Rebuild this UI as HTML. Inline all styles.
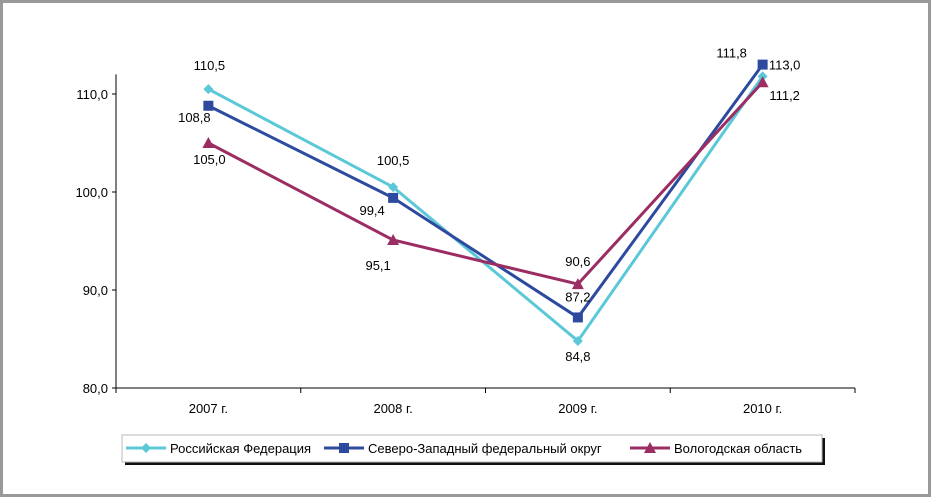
<!DOCTYPE html>
<html><head><meta charset="utf-8"><style>
html,body{margin:0;padding:0;background:#fff}
svg{display:block;font-family:"Liberation Sans",sans-serif}
</style></head><body>
<svg width="931" height="497">
<rect x="1.5" y="1.5" width="928" height="494" fill="#fff" stroke="#999" stroke-width="3"/>
<g id="axes"></g><g id="series"></g><g id="labels"></g>
<g>
<rect x="125" y="438" width="700" height="27" fill="#111"/>
<rect x="122" y="435" width="700" height="27" fill="#fff" stroke="#bbb"/>
<line x1="126" y1="448" x2="166" y2="448" stroke="#5bc8d8" stroke-width="3"/>
<path d="M146 443 L151 448 L146 453 L141 448Z" fill="#5bc8d8"/>
<text x="170" y="453" font-size="13" fill="#000">Российская Федерация</text>
<line x1="324" y1="448" x2="364" y2="448" stroke="#2e4a9e" stroke-width="3"/>
<rect x="339" y="443" width="10" height="10" fill="#2e4a9e"/>
<text x="368" y="453" font-size="13" fill="#000">Северо-Западный федеральный округ</text>
<line x1="630" y1="448" x2="670" y2="448" stroke="#9b2d63" stroke-width="3"/>
<path d="M650 442 L656 453 L644 453Z" fill="#9b2d63"/>
<text x="674" y="453" font-size="13" fill="#000">Вологодская область</text>
</g>
</svg>
<script>
const categories=["2007 г.","2008 г.","2009 г.","2010 г."];
const yTicks=[80,90,100,110];
const rf=[110.5,100.5,84.8,111.8];
const nw=[108.8,99.4,87.2,113.0];
const vo=[105.0,95.1,90.6,111.2];
const NS="http://www.w3.org/2000/svg";
const x0=116,x1=855,yBase=388,pxPer=9.8;
const xS=i=>x0+(x1-x0)/categories.length*(i+0.5);
const yS=v=>yBase-(v-80)*pxPer;
function mk(t,a,p){const e=document.createElementNS(NS,t);for(const k in a)e.setAttribute(k,a[k]);p.appendChild(e);return e;}
const fmt=v=>v.toFixed(1).replace('.',',');
const ax=document.getElementById('axes');
const ya=mk('line',{x1:x0,y1:yS(112),x2:x0,y2:yBase,stroke:'#000'},ax);


yTicks.forEach(v=>{
 mk('line',{x1:x0-4,y1:yS(v),x2:x0,y2:yS(v),stroke:'#000'},ax);
 const t=mk('text',{x:x0-8,y:yS(v)+5,'text-anchor':'end','font-size':13},ax);t.textContent=fmt(v);
 
 
});
const xa=mk('line',{x1:x0,y1:yBase,x2:x1,y2:yBase,stroke:'#000'},ax);


for(let i=0;i<=categories.length;i++){const xx=x0+(x1-x0)/categories.length*i;mk('line',{x1:xx,y1:yBase,x2:xx,y2:yBase+5,stroke:'#000'},ax);}
categories.forEach((c,i)=>{const t=mk('text',{x:xS(i),y:yBase+25,'text-anchor':'middle','font-size':13},ax);t.textContent=c;
 
 });
const sg=document.getElementById('series'),lg=document.getElementById('labels');
function series(vals,color,shape,name,offs){
 const p=mk('polyline',{points:vals.map((v,i)=>xS(i)+','+yS(v)).join(' '),fill:'none',stroke:color,'stroke-width':3},sg);
 
 
 vals.forEach((v,i)=>{const x=xS(i),y=yS(v);let m;
  if(shape==='d')m=mk('path',{d:`M${x} ${y-5}L${x+5} ${y}L${x} ${y+5}L${x-5} ${y}Z`,fill:color},sg);
  else if(shape==='s')m=mk('rect',{x:x-5,y:y-5,width:10,height:10,fill:color},sg);
  else m=mk('path',{d:`M${x} ${y-6}L${x+6} ${y+5}L${x-6} ${y+5}Z`,fill:color},sg);
  
  
  const t=mk('text',{x:x+offs[i][0],y:y+offs[i][1],'text-anchor':'middle','font-size':13},lg);t.textContent=fmt(v);
  
  
 });
}
series(rf,'#5bc8d8','d','rf',[[1,-19],[0,-22],[0,20],[-31,-19]]);
series(nw,'#2e4a9e','s','nw',[[-14,16],[-21,17],[0,-16],[22,5]]);
series(vo,'#9b2d63','t','vologda',[[1,21],[-15,30],[0,-18],[22,18]]);
</script>
</body></html>
